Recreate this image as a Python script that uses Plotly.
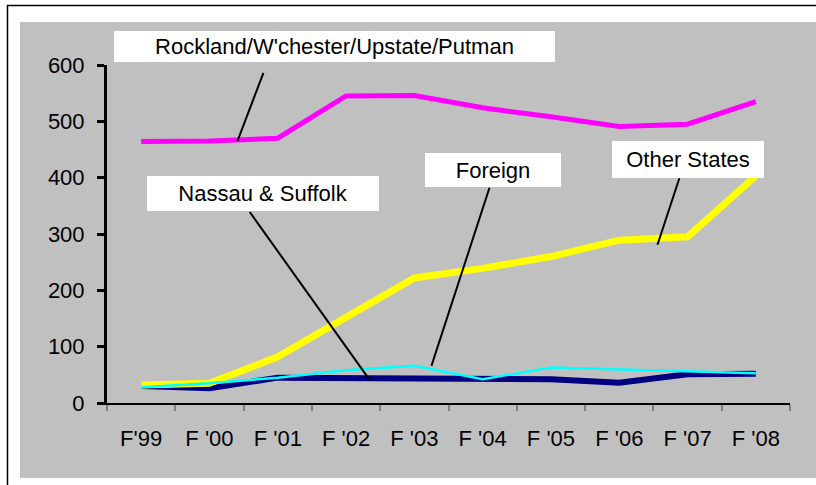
import plotly.graph_objects as go

categories = ["F'99", "F '00", "F '01", "F '02", "F '03", "F '04", "F '05", "F '06", "F '07", "F '08"]
rockland = [464, 465, 470, 545, 546, 524, 508, 491, 495, 535]
other_states = [32, 35, 82, 152, 222, 239, 260, 289, 295, 403]
nassau = [30, 26, 45, 44, 43, 41, 42, 36, 51, 52]
foreign = [28, 35, 45, 58, 66, 42, 63, 60, 56, 53]

# label boxes: text, centre px (x, y), box size px (w, h)
labels = [
    ("Rockland/W'chester/Upstate/Putman", (334.5, 46.5), (441, 31)),
    ("Nassau & Suffolk", (263, 193.5), (232, 35)),
    ("Foreign", (493, 170), (136, 34)),
    ("Other States", (688, 159.5), (152, 37)),
]
# leader lines in data coords: (x0, y0, x1, y1) with x = category index
leaders = [
    (1.79, 586, 1.41, 465),
    (1.59, 339, 3.345, 41),
    (5.10, 382, 4.25, 66),
    (7.88, 399, 7.56, 281),
]

W, H = 816, 485
L, R, T, B = 107, 790, 65, 403
def px(x):
    return (x - L) / (R - L)
def py(y):
    return (B - y) / (B - T)

FONT = "Liberation Sans, Arial, sans-serif"
FS = 22
fig = go.Figure()
fig.add_trace(go.Scatter(x=categories, y=rockland, mode="lines",
                         line=dict(color="#FF00FF", width=5), name="Rockland"))
fig.add_trace(go.Scatter(x=categories, y=nassau, mode="lines",
                         line=dict(color="#000080", width=6), name="Nassau & Suffolk"))
fig.add_trace(go.Scatter(x=categories, y=other_states, mode="lines",
                         line=dict(color="#FFFF00", width=7), name="Other States"))
fig.add_trace(go.Scatter(x=categories, y=foreign, mode="lines",
                         line=dict(color="#00FFFF", width=2.5), name="Foreign"))

shapes = []
# white frame strips outside the grey area
for (x0, y0, x1, y1) in [(0, 0, W, 22), (0, 0, 20, H), (0, 478, W, H)]:
    shapes.append(dict(type="rect", xref="paper", yref="paper", layer="below",
                       x0=px(x0), x1=px(x1), y0=py(y1), y1=py(y0),
                       fillcolor="white", line=dict(width=0)))
# grey strip on the right edge (no frame line there)
shapes.append(dict(type="rect", xref="paper", yref="paper", layer="above",
                   x0=px(800), x1=px(W), y0=py(478), y1=py(22),
                   fillcolor="#C0C0C0", line=dict(width=0)))
shapes.append(dict(type="line", xref="paper", yref="paper", x0=px(7), x1=px(W),
                   y0=py(5.5), y1=py(5.5), line=dict(color="black", width=1.5)))
shapes.append(dict(type="line", xref="paper", yref="paper", x0=px(7.5), x1=px(7.5),
                   y0=py(5), y1=py(H), line=dict(color="black", width=1.5)))
for (x0, y0, x1, y1) in leaders:
    shapes.append(dict(type="line", xref="x", yref="y", x0=x0, y0=y0, x1=x1, y1=y1,
                       line=dict(color="black", width=2)))

annotations = []
for text, (cx, cy), (bw, bh) in labels:
    annotations.append(dict(text=text, xref="paper", yref="paper", x=px(cx), y=py(cy),
                            xanchor="center", yanchor="middle", showarrow=False,
                            width=bw, height=bh, bgcolor="white", borderwidth=0, borderpad=0,
                            font=dict(family=FONT, size=FS, color="black")))

fig.update_layout(
    width=W, height=H,
    margin=dict(l=L, r=W - R, t=T, b=H - B),
    paper_bgcolor="#C0C0C0", plot_bgcolor="#C0C0C0",
    showlegend=False,
    font=dict(family=FONT, size=FS, color="black"),
    shapes=shapes, annotations=annotations,
)
fig.update_xaxes(type="category", range=[-0.5, 9.5], showline=True, linecolor="black",
                 linewidth=1.5, ticks="outside", tickson="boundaries", ticklen=6,
                 tickcolor="#808080", tickwidth=1.5, showgrid=False, zeroline=False,
                 ticklabelstandoff=15, tickfont=dict(size=FS))
fig.update_yaxes(range=[0, 600], dtick=100, showline=True, linecolor="black", linewidth=3,
                 ticks="outside", ticklen=7, tickwidth=3, tickcolor="black",
                 showgrid=False, zeroline=False, ticklabelstandoff=8, tickfont=dict(size=FS))

fig.write_html("out.html", config={"displayModeBar": False},
               post_script="document.body.style.margin='0';document.body.style.overflow='hidden';")
